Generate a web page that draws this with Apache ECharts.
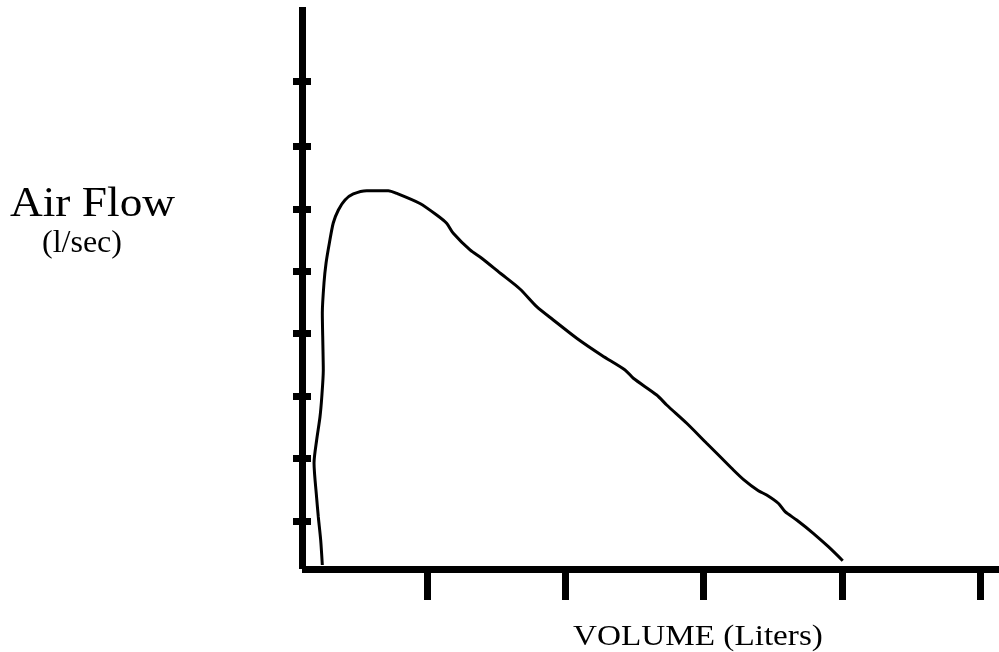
<!DOCTYPE html>
<html>
<head>
<meta charset="utf-8">
<script src="https://cdn.jsdelivr.net/npm/echarts@6/dist/echarts.min.js"></script>
<style>
  html, body { margin: 0; padding: 0; background: #fff; }
  #chart { width: 999px; height: 652px; }
</style>
</head>
<body>
<div id="chart"></div>
<script>
// Volume (liters) along the expiration curve
const volume = [0.243, 0.231, 0.214, 0.202, 0.183, 0.202, 0.226, 0.239, 0.250, 0.247,
  0.243, 0.255, 0.270, 0.294, 0.322, 0.359, 0.407, 0.467, 0.564, 0.720,
  0.783, 0.949, 1.070, 1.142, 1.190, 1.311, 1.398, 1.528, 1.672, 1.793,
  1.913, 2.085, 2.265, 2.432, 2.492, 2.661, 2.733, 2.878, 3.022, 3.131,
  3.203, 3.287, 3.396, 3.456, 3.540, 3.589, 3.673, 3.793, 3.902, 4.006];
// Air flow (l/sec) at each volume
const airFlow = [0.295, 0.696, 1.064, 1.368, 1.929, 2.297, 2.666, 2.986, 3.419, 3.819,
  4.332, 4.812, 5.133, 5.453, 5.773, 5.982, 6.142, 6.238, 6.291, 6.291,
  6.246, 6.086, 5.901, 5.769, 5.608, 5.341, 5.205, 4.972, 4.716, 4.433,
  4.220, 3.923, 3.651, 3.419, 3.286, 3.018, 2.858, 2.565, 2.245, 2.004,
  1.844, 1.668, 1.485, 1.416, 1.284, 1.149, 1.016, 0.803, 0.588, 0.364];
// Tick positions
const xTicks = [1, 2, 3, 4, 5];
const yTicks = [1, 2, 3, 4, 5, 6, 7, 8.05];
const xTitle = 'VOLUME (Liters)';
const yTitle = 'Air Flow';
const yUnit = '(l/sec)';

const points = volume.map((v, i) => [v, airFlow[i]]);
const chart = echarts.init(document.getElementById('chart'), null, { renderer: 'canvas' });
const serif = '"Liberation Serif", "Times New Roman", serif';

chart.setOption({
  animation: false,
  backgroundColor: '#fff',
  grid: { left: 302, right: 0, top: 7, bottom: 83, containLabel: false },
  xAxis: {
    type: 'value', min: 0.096, max: 5.136,
    axisLine: { show: true, lineStyle: { color: '#000', width: 7, cap: 'butt' } },
    axisTick: { show: true, customValues: xTicks, length: 31, inside: false,
      lineStyle: { color: '#000', width: 7 } },
    axisLabel: { show: false },
    splitLine: { show: false }
  },
  yAxis: [
    {
      type: 'value', min: 0.231, max: 9.233, position: 'left',
      axisLine: { show: true, onZero: false, lineStyle: { color: '#000', width: 7, cap: 'butt' } },
      axisTick: { show: true, customValues: yTicks, length: 9, inside: false,
        lineStyle: { color: '#000', width: 7 } },
      axisLabel: { show: false },
      splitLine: { show: false }
    },
    {
      type: 'value', min: 0.231, max: 9.233, position: 'left',
      axisLine: { show: false },
      axisTick: { show: true, customValues: yTicks, length: 9, inside: true,
        lineStyle: { color: '#000', width: 7 } },
      axisLabel: { show: false },
      splitLine: { show: false }
    }
  ],
  series: [{
    type: 'line',
    data: points,
    xAxisIndex: 0, yAxisIndex: 0,
    smooth: 0.25,
    showSymbol: false,
    lineStyle: { color: '#000', width: 3 },
    clip: false
  }],
  graphic: [
    { type: 'text', x: 10, y: 205, scaleX: 1.08, silent: true,
      style: { text: yTitle, font: '42px ' + serif, fill: '#000', textAlign: 'left', textVerticalAlign: 'middle' } },
    { type: 'text', x: 42, y: 244, scaleX: 1.0, silent: true,
      style: { text: yUnit, font: '32px ' + serif, fill: '#000', textAlign: 'left', textVerticalAlign: 'middle' } },
    { type: 'text', x: 573, y: 637, scaleX: 1.145, silent: true,
      style: { text: xTitle, font: '29px ' + serif, fill: '#000', textAlign: 'left', textVerticalAlign: 'middle' } }
  ]
});
</script>
</body>
</html>
